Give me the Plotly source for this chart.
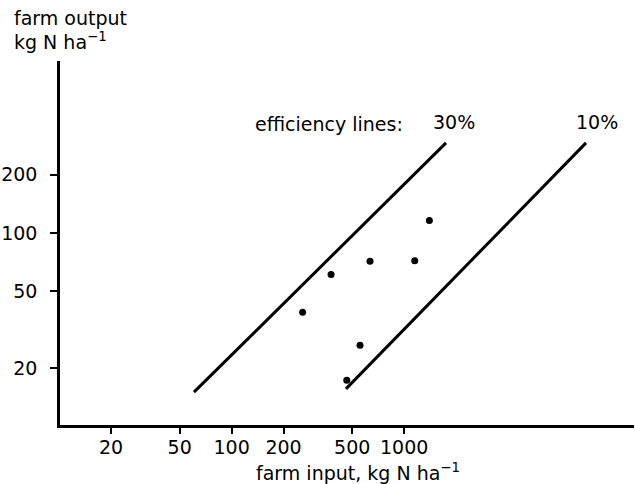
import plotly.graph_objects as go

# Farm nitrogen balance: output vs input (kg N per ha), log-log
farm_input = [258, 377, 634, 1151, 1400, 555, 465]
farm_output = [38.8, 60.9, 71.3, 71.8, 115.9, 26.2, 17.3]

# Efficiency guide lines (end points in kg N per ha)
line30_input = [60.5, 1748]
line30_output = [15.0, 292]
line10_input = [460, 11320]
line10_output = [15.6, 292]

x_ticks = [20, 50, 100, 200, 500, 1000]
y_ticks = [20, 50, 100, 200]

FONT = "DejaVu Sans"
W, H = 636, 484
L, R, T, B = 60, 2, 61, 59
PW, PH = W - L - R, H - T - B


def px(x):
    return (x - L) / PW


def py(y):
    return (H - B - y) / PH


fig = go.Figure()

for xs, ys in [(line30_input, line30_output), (line10_input, line10_output)]:
    fig.add_trace(go.Scatter(x=xs, y=ys, mode="lines",
                             line=dict(color="black", width=3),
                             showlegend=False, hoverinfo="skip"))

fig.add_trace(go.Scatter(x=farm_input, y=farm_output, mode="markers",
                         marker=dict(color="black", size=7),
                         showlegend=False))

axis_common = dict(
    type="log", showgrid=False, zeroline=False, showline=True,
    linecolor="black", linewidth=2.5, ticks="outside", tickwidth=2,
    tickcolor="black", tickfont=dict(family=FONT, size=19, color="black"),
    tickmode="array",
)

fig.update_xaxes(**axis_common, range=[1.0055, 4.332], ticklen=6,
                 tickvals=x_ticks, ticktext=[str(v) for v in x_ticks],
                 ticklabelstandoff=-3)
fig.update_yaxes(**axis_common, range=[1.0062, 2.889], ticklen=7,
                 tickvals=y_ticks, ticktext=[str(v) for v in y_ticks],
                 ticklabelstandoff=9)

ann_font = dict(family=FONT, size=19, color="black")
annotations = [
    dict(text="farm output", x=px(12), y=py(18), xanchor="left", yanchor="middle"),
    dict(text="kg N ha<sup>−1</sup>", x=px(12), y=py(41), xanchor="left", yanchor="middle"),
    dict(text="farm input, kg N ha<sup>−1</sup>", x=px(358), y=py(472), xanchor="center", yanchor="middle"),
    dict(text="efficiency lines:", x=px(253), y=py(124), xanchor="left", yanchor="middle"),
    dict(text="30%", x=px(454), y=py(122), xanchor="center", yanchor="middle"),
    dict(text="10%", x=px(597), y=py(122), xanchor="center", yanchor="middle"),
]
for a in annotations:
    a.update(xref="paper", yref="paper", showarrow=False, font=ann_font)

fig.update_layout(
    width=W, height=H,
    margin=dict(l=L, r=R, t=T, b=B),
    paper_bgcolor="white", plot_bgcolor="white",
    annotations=annotations,
    font=dict(family=FONT, color="black"),
)

fig.write_html("out.html")
